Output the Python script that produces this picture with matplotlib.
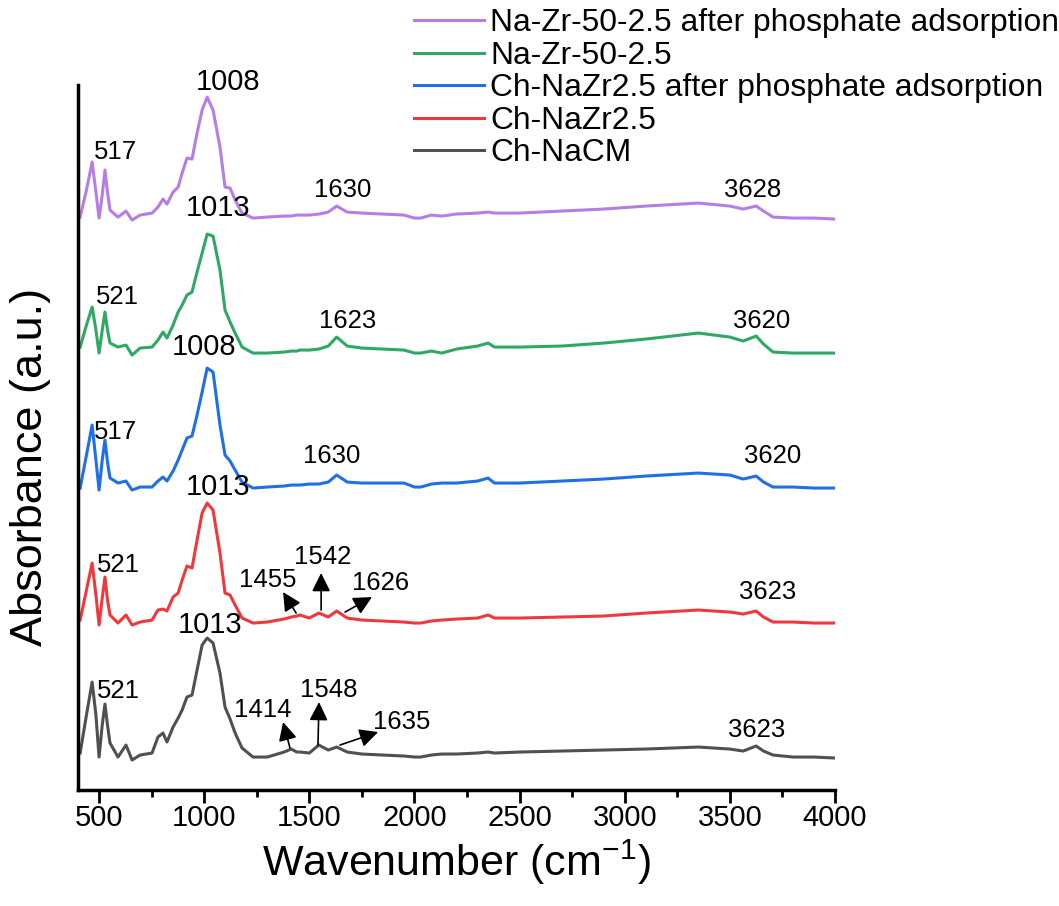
import numpy as np
import matplotlib
matplotlib.use("Agg")
import matplotlib.pyplot as plt
from matplotlib.ticker import MultipleLocator

plt.rcParams["font.family"] = ["Liberation Sans", "DejaVu Sans"]
plt.rcParams["mathtext.fontset"] = "custom"
plt.rcParams["mathtext.rm"] = "Liberation Sans"
plt.rcParams["mathtext.it"] = "Liberation Sans"

# --- wavenumber grid (cm-1) shared by all spectra
wavenumber = [410, 440, 467, 485, 500, 515, 528, 540, 552, 590, 628, 657, 695, 752,
              780, 804, 823, 852, 876, 895, 918, 942, 966, 990, 1014, 1042, 1075,
              1099, 1123, 1147, 1180, 1232, 1300, 1380, 1414, 1440, 1455, 1500, 1545,
              1590, 1630, 1680, 1750, 1850, 1950, 2000, 2030, 2080, 2130, 2200, 2300,
              2350, 2380, 2500, 2700, 2900, 3100, 3350, 3500, 3563, 3625, 3660, 3705,
              3800, 3900, 4000]

# --- absorbance (a.u., stacked as in the figure)
na_zr_after = [5.73, 6.00, 6.28, 5.98, 5.72, 5.95, 6.20, 5.98, 5.80, 5.73, 5.79, 5.70, 5.75, 5.77,
               5.83, 5.91, 5.86, 5.98, 6.03, 6.17, 6.32, 6.31, 6.57, 6.80, 6.93, 6.80, 6.43,
               6.03, 6.02, 5.90, 5.77, 5.72, 5.73, 5.74, 5.74, 5.75, 5.75, 5.75, 5.76,
               5.78, 5.84, 5.78, 5.77, 5.76, 5.75, 5.72, 5.72, 5.75, 5.74, 5.76, 5.77,
               5.78, 5.77, 5.77, 5.79, 5.81, 5.84, 5.87, 5.84, 5.81, 5.84, 5.79, 5.73,
               5.72, 5.72, 5.71]
na_zr = [4.43, 4.65, 4.83, 4.60, 4.37, 4.60, 4.78, 4.60, 4.47, 4.43, 4.45, 4.35, 4.42, 4.43,
         4.50, 4.58, 4.52, 4.65, 4.78, 4.85, 4.95, 4.98, 5.18, 5.37, 5.56, 5.54, 5.20,
         4.80, 4.68, 4.57, 4.43, 4.37, 4.37, 4.38, 4.39, 4.39, 4.40, 4.40, 4.41,
         4.44, 4.53, 4.44, 4.42, 4.41, 4.40, 4.37, 4.37, 4.39, 4.37, 4.41, 4.44,
         4.47, 4.43, 4.43, 4.44, 4.47, 4.51, 4.57, 4.53, 4.49, 4.54, 4.46, 4.38,
         4.37, 4.37, 4.37]
ch_nazr_after = [3.02, 3.35, 3.65, 3.30, 3.00, 3.30, 3.50, 3.28, 3.12, 3.07, 3.09, 3.00, 3.03, 3.03,
                 3.09, 3.13, 3.09, 3.19, 3.30, 3.40, 3.52, 3.54, 3.75, 3.98, 4.22, 4.18, 3.65,
                 3.35, 3.29, 3.20, 3.08, 3.02, 3.03, 3.04, 3.05, 3.05, 3.05, 3.06, 3.06,
                 3.08, 3.15, 3.08, 3.07, 3.07, 3.07, 3.03, 3.03, 3.06, 3.07, 3.07, 3.09,
                 3.12, 3.07, 3.07, 3.09, 3.11, 3.14, 3.17, 3.15, 3.11, 3.14, 3.08, 3.03,
                 3.03, 3.02, 3.02]
ch_nazr = [1.70, 2.00, 2.27, 1.95, 1.65, 1.92, 2.13, 1.90, 1.75, 1.67, 1.75, 1.65, 1.68, 1.70,
           1.80, 1.81, 1.79, 1.93, 1.97, 2.10, 2.24, 2.22, 2.50, 2.77, 2.87, 2.80, 2.37,
           1.97, 1.95, 1.85, 1.72, 1.67, 1.68, 1.71, 1.73, 1.74, 1.75, 1.72, 1.77,
           1.73, 1.79, 1.72, 1.70, 1.69, 1.68, 1.67, 1.67, 1.69, 1.70, 1.71, 1.72,
           1.75, 1.72, 1.72, 1.73, 1.74, 1.77, 1.80, 1.78, 1.76, 1.79, 1.73, 1.68,
           1.68, 1.67, 1.67]
ch_nacm = [0.37, 0.75, 1.08, 0.75, 0.33, 0.65, 0.86, 0.65, 0.47, 0.33, 0.45, 0.30, 0.35, 0.37,
           0.53, 0.57, 0.48, 0.63, 0.72, 0.80, 0.93, 0.95, 1.20, 1.45, 1.52, 1.47, 1.17,
           0.83, 0.71, 0.57, 0.42, 0.33, 0.33, 0.38, 0.41, 0.38, 0.38, 0.37, 0.45,
           0.40, 0.43, 0.38, 0.36, 0.35, 0.34, 0.33, 0.33, 0.35, 0.36, 0.36, 0.37,
           0.38, 0.37, 0.38, 0.39, 0.40, 0.41, 0.43, 0.41, 0.39, 0.44, 0.39, 0.35,
           0.33, 0.33, 0.32]

series_names = ["Na-Zr-50-2.5 after phosphate adsorption", "Na-Zr-50-2.5",
                "Ch-NaZr2.5 after phosphate adsorption", "Ch-NaZr2.5", "Ch-NaCM"]
series_values = [na_zr_after, na_zr, ch_nazr_after, ch_nazr, ch_nacm]
colors = ["#b57ee6", "#2ea862", "#1f6fe6", "#f0383c", "#505050"]

# --- peak labels: (text, wavenumber, level)
peak_labels = [
    ("517", 576, 6.38), ("1008", 1113, 7.08), ("1630", 1660, 6.00), ("3628", 3610, 6.00),
    ("521", 585, 4.93), ("1013", 1066, 5.82), ("1623", 1684, 4.69), ("3620", 3653, 4.69),
    ("517", 576, 3.58), ("1008", 1000, 4.43), ("1630", 1608, 3.34), ("3620", 3705, 3.34),
    ("521", 590, 2.25), ("1013", 1066, 3.03), ("1455", 1304, 2.10), ("1542", 1565, 2.33),
    ("1626", 1841, 2.07), ("3623", 3681, 1.98),
    ("521", 590, 0.99), ("1013", 1028, 1.65), ("1414", 1280, 0.80), ("1548", 1594, 1.00),
    ("1635", 1941, 0.68), ("3623", 3629, 0.60),
]

# --- arrows: (tail wn, tail level, head wn, head level)
arrows = [
    (1437, 1.77, 1375, 1.98), (1556, 1.80, 1556, 2.17), (1670, 1.78, 1798, 1.93),
    (1408, 0.42, 1375, 0.68), (1541, 0.45, 1546, 0.88), (1646, 0.45, 1827, 0.58),
]

fig = plt.figure(figsize=(10.59, 9.06), dpi=100)
ax = fig.add_axes([0.0737, 0.1280, 0.7148, 0.7781])

for name, vals, col in zip(series_names, series_values, colors):
    ax.plot(wavenumber, vals, color=col, lw=2.2, label=name, solid_joinstyle="round")

for txt, x, y in peak_labels:
    fs = 21 if txt in ("1008", "1013") else 18.5
    ax.text(x, y, txt, fontsize=fs, ha="center", va="center")

for x0, y0, x1, y1 in arrows:
    ax.annotate("", xy=(x1, y1), xytext=(x0, y0),
                arrowprops=dict(arrowstyle="-|>", color="black", lw=1.2,
                                mutation_scale=28, shrinkA=0, shrinkB=0))

ax.set_xlim(400, 4000)
ax.set_ylim(0, 7.05)
ax.xaxis.set_minor_locator(MultipleLocator(250))
ax.set_xticks([500, 1000, 1500, 2000, 2500, 3000, 3500, 4000])
ax.set_yticks([])
ax.tick_params(axis="x", which="major", length=9, width=2, labelsize=21, pad=1)
ax.tick_params(axis="x", which="minor", length=5, width=2)
for side in ("top", "right"):
    ax.spines[side].set_visible(False)
for side in ("left", "bottom"):
    ax.spines[side].set_linewidth(2.5)

ax.set_xlabel("Wavenumber (cm$^{-1}$)", fontsize=31, labelpad=4)
ax.set_ylabel("Absorbance (a.u.)", fontsize=32.5)
ax.yaxis.set_label_coords(-0.036, 0.458)

ax.legend(loc="upper left", bbox_to_anchor=(0.391, 0.991), bbox_transform=fig.transFigure,
          frameon=False, fontsize=22.9, handlelength=2.2, handletextpad=0.2,
          labelspacing=0.08, borderpad=0.0, borderaxespad=0.0)

fig.savefig("out.png", dpi=100)
